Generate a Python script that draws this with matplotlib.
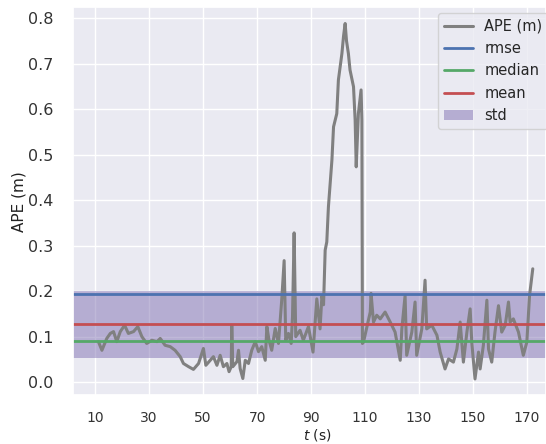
import matplotlib
matplotlib.use("Agg")
import matplotlib.pyplot as plt
import seaborn as sns

# Absolute pose error over time (seconds, metres)
t_s = [11.2, 12.5, 14.3, 15.6, 16.8, 18.0, 19.3, 20.9, 22.3, 24.2, 25.8, 27.3,
       29.1, 31.0, 32.9, 34.1, 35.9, 37.8, 39.6, 41.5, 42.7, 44.6, 46.4, 48.3,
       50.1, 51.0, 52.6, 53.8, 55.1, 56.3, 57.5, 58.8, 59.6, 60.4, 60.6, 61.0,
       62.5, 63.1, 63.7, 64.7, 65.6, 66.8, 68.0, 69.3, 70.5, 71.7, 73.0, 73.6,
       74.4, 75.4, 76.7, 77.9, 79.1, 80.0, 80.6, 81.6, 82.6, 83.1, 83.7, 84.3,
       85.9, 87.1, 89.0, 90.7, 92.1, 93.3, 94.0, 94.6, 95.2, 95.8, 96.4, 97.7,
       98.3, 99.5, 100.1, 101.4, 102.0, 102.6, 103.1, 103.8, 104.4, 105.7, 106.3,
       106.7, 107.5, 108.5, 108.8, 109.0, 109.4, 110.6, 111.9, 112.2, 113.1,
       114.3, 115.6, 117.4, 119.3, 121.1, 123.0, 123.6, 124.8, 125.4, 127.3,
       128.5, 129.1, 131.0, 132.2, 132.8, 134.7, 136.6, 137.8, 139.6, 140.9,
       142.7, 144.0, 145.2, 146.4, 147.7, 148.9, 149.5, 150.7, 152.0, 152.6,
       153.8, 155.1, 155.7, 156.9, 158.1, 159.4, 160.6, 161.9, 163.1, 163.7,
       164.9, 166.8, 168.6, 169.9, 170.9, 172.1]
ape_m = [0.089, 0.070, 0.096, 0.107, 0.111, 0.089, 0.111, 0.125, 0.107, 0.111,
         0.122, 0.100, 0.085, 0.092, 0.089, 0.096, 0.081, 0.078, 0.070, 0.056,
         0.041, 0.034, 0.028, 0.041, 0.074, 0.037, 0.048, 0.056, 0.037, 0.059,
         0.034, 0.041, 0.023, 0.034, 0.125, 0.034, 0.045, 0.070, 0.030, 0.008,
         0.048, 0.041, 0.070, 0.089, 0.067, 0.078, 0.048, 0.122, 0.092, 0.070,
         0.118, 0.085, 0.180, 0.267, 0.092, 0.107, 0.085, 0.144, 0.328, 0.100,
         0.114, 0.092, 0.122, 0.066, 0.183, 0.117, 0.190, 0.170, 0.290, 0.308,
         0.385, 0.488, 0.561, 0.590, 0.664, 0.722, 0.760, 0.788, 0.750, 0.722,
         0.686, 0.649, 0.576, 0.473, 0.590, 0.642, 0.576, 0.085, 0.088, 0.120,
         0.154, 0.195, 0.132, 0.147, 0.139, 0.154, 0.132, 0.110, 0.048, 0.117,
         0.190, 0.059, 0.110, 0.176, 0.059, 0.117, 0.224, 0.117, 0.125, 0.103,
         0.066, 0.029, 0.051, 0.044, 0.073, 0.132, 0.044, 0.110, 0.161, 0.088,
         0.007, 0.066, 0.029, 0.081, 0.180, 0.073, 0.044, 0.110, 0.168, 0.110,
         0.125, 0.176, 0.132, 0.139, 0.110, 0.059, 0.088, 0.190, 0.249]

# Summary statistics
rmse = 0.194
median = 0.090
mean = 0.127
std = 0.074

x_ticks = [10, 30, 50, 70, 90, 110, 130, 150, 170]
y_ticks = [0.0, 0.1, 0.2, 0.3, 0.4, 0.5, 0.6, 0.7, 0.8]

sns.set_theme(style="darkgrid")
plt.rcParams["font.family"] = ["DejaVu Sans"]

pal = sns.color_palette("deep")

fig = plt.figure(figsize=(5.46, 4.44), dpi=100)
ax = fig.add_axes([0.134, 0.110, 0.866, 0.874])

ax.plot(t_s, ape_m, color="gray", lw=2.2, label="APE (m)")
ax.axhline(rmse, color=pal[0], lw=2.0, label="rmse")
ax.axhline(median, color=pal[2], lw=2.0, label="median")
ax.axhline(mean, color=pal[3], lw=2.0, label="mean")
ax.axhspan(mean - std, mean + std, color=pal[4], alpha=0.5, lw=0, label="std")

ax.set_xlim(1.85, 177.0)
ax.set_ylim(-0.0286, 0.824)
ax.set_xticks(x_ticks)
ax.set_yticks(y_ticks)
ax.set_xticklabels([str(v) for v in x_ticks])
ax.set_yticklabels([f"{v:.1f}" for v in y_ticks])
ax.tick_params(axis="x", labelsize=10, pad=5.5, colors="#333333")
ax.tick_params(axis="y", labelsize=11.5, pad=8, colors="#333333")

ax.set_xlabel("$t$ (s)", fontsize=10, color="#222222")
ax.xaxis.set_label_coords((317 - 73) / 473, -0.083)
ax.set_ylabel("APE (m)", fontsize=11, color="#222222")
ax.yaxis.set_label_coords(-0.098, 0.5)

leg = ax.legend(loc="upper right", fontsize=10.5, frameon=True,
                bbox_to_anchor=(1.005, 0.985), borderaxespad=0.0)

fig.savefig("out.png", dpi=100)
